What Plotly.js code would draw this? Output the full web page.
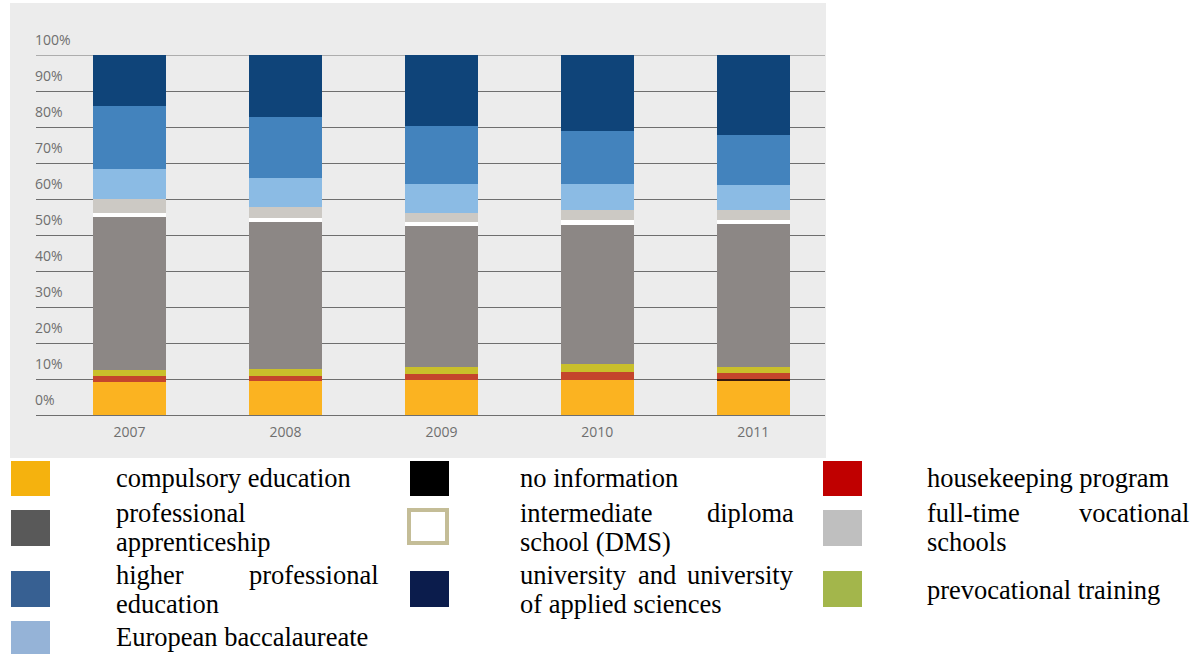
<!DOCTYPE html>
<html>
<head>
<meta charset="utf-8">
<script src="https://cdn.plot.ly/plotly-3.0.1.min.js"></script>
<style>
  html, body { margin: 0; padding: 0; background: #ffffff; }
  #chart { width: 1200px; height: 654px; }
</style>
</head>
<body>
<div id="chart"></div>
<script>
// ---- data (shares in %) ----
const years = ['2007', '2008', '2009', '2010', '2011'];
const compulsoryEducation      = [9.3, 9.4, 9.7, 9.7, 9.4];
const noInformation            = [0, 0, 0, 0, 0.6];
const housekeepingProgram      = [1.5, 1.4, 1.7, 2.3, 1.6];
const prevocationalTraining    = [1.7, 1.9, 2.0, 2.1, 1.8];
const professionalApprenticeship = [42.6, 41.0, 39.2, 38.6, 39.6];
const intermediateDiplomaSchool = [1.1, 1.1, 0.9, 1.5, 1.2];
const fullTimeVocationalSchools = [3.7, 3.1, 2.5, 2.7, 2.7];
const europeanBaccalaureate    = [8.3, 8.0, 8.2, 7.2, 7.0];
const higherProfessionalEducation = [17.7, 17.0, 16.2, 14.9, 13.9];
const universityAndUAS         = [14.1, 17.1, 19.6, 21.0, 22.2];

const yTickValues = [0, 10, 20, 30, 40, 50, 60, 70, 80, 90, 100];
const yTickLabels = ['0%', '10%', '20%', '30%', '40%', '50%', '60%', '70%', '80%', '90%', '100%'];

const legendLabels = [
  'compulsory education', 'no information', 'housekeeping program',
  'professional apprenticeship', 'intermediate diploma school (DMS)', 'full-time vocational schools',
  'higher professional education', 'university and university of applied sciences', 'prevocational training',
  'European baccalaureate'
];

// ---- series (bottom to top) ----
const series = [
  {name: 'compulsory education', y: compulsoryEducation, color: '#fbb321'},
  {name: 'no information', y: noInformation, color: '#3a1a0c'},
  {name: 'housekeeping program', y: housekeepingProgram, color: '#c4452c'},
  {name: 'prevocational training', y: prevocationalTraining, color: '#c9bf2b'},
  {name: 'professional apprenticeship', y: professionalApprenticeship, color: '#8c8785'},
  {name: 'intermediate diploma school (DMS)', y: intermediateDiplomaSchool, color: '#ffffff'},
  {name: 'full-time vocational schools', y: fullTimeVocationalSchools, color: '#ccc9c4'},
  {name: 'European baccalaureate', y: europeanBaccalaureate, color: '#8bbbe4'},
  {name: 'higher professional education', y: higherProfessionalEducation, color: '#4383bd'},
  {name: 'university and university of applied sciences', y: universityAndUAS, color: '#0f4479'}
];

const traces = series.map(s => ({
  type: 'bar',
  name: s.name,
  x: years,
  y: s.y,
  marker: {color: s.color, line: {width: 0}},
  showlegend: false,
  hoverinfo: 'skip'
}));

// ---- layout geometry (pixels) ----
const W = 1200, H = 654;
const plotL = 36, plotR = 825, plotT = 55, plotB = 415;
const px = v => (v - plotL) / (plotR - plotL);
const py = v => (plotB - v) / (plotB - plotT);

const shapes = [];
const annotations = [];

// chart panel background
shapes.push({type: 'rect', xref: 'paper', yref: 'paper', layer: 'below',
  x0: px(10), x1: px(826), y0: py(458), y1: py(3),
  fillcolor: '#ececec', line: {width: 0}});

// top gridline (plot edge gridline is not drawn by the axis itself)
const yTop = Math.max(...yTickValues);
shapes.push({type: 'line', xref: 'paper', yref: 'y', layer: 'below',
  x0: 0, x1: 1, y0: yTop, y1: yTop, line: {color: '#6e6e6e', width: 1}});

// custom legend (3 columns)
const legendColors = ['#f5b20e', '#000000', '#c00000', '#595959', 'DMS', '#bfbfbf',
                      '#376092', '#0b1c4c', '#a3b64b', '#95b3d7'];
const colBoxX = [11, 410, 823];
const colTextL = [115, 519, 926];
const colTextR = [380, 795, 1190];
const rowBoxY = [[461, 496], [510, 546], [571, 607], [621, 657]];
const firstLineWords = {3: 1, 4: 2, 5: 2, 6: 2, 7: 3};
const baselines = {
  0: [487], 1: [487], 2: [487],
  3: [522, 551], 4: [522, 551], 5: [522, 551],
  6: [584, 613], 7: [584, 613], 8: [599],
  9: [646]
};
const legendFont = {family: '"Liberation Serif", "Times New Roman", serif', size: 26.5, color: '#000000'};

function addText(text, xpx, baseline, anchor) {
  annotations.push({xref: 'paper', yref: 'paper', x: px(xpx), y: py(baseline - 9),
    xanchor: anchor, yanchor: 'middle', text: text, showarrow: false,
    font: legendFont, borderpad: 0});
}

legendLabels.forEach((label, i) => {
  const col = i % 3, row = Math.floor(i / 3);
  const bx = colBoxX[col], by = rowBoxY[row];
  if (legendColors[i] === 'DMS') {
    shapes.push({type: 'rect', xref: 'paper', yref: 'paper',
      x0: px(bx - 1), x1: px(bx + 37), y0: py(by[1] - 3), y1: py(by[0]),
      fillcolor: '#ffffff', line: {color: '#c4bd97', width: 4}});
  } else {
    shapes.push({type: 'rect', xref: 'paper', yref: 'paper',
      x0: px(bx), x1: px(bx + 39), y0: py(by[1]), y1: py(by[0]),
      fillcolor: legendColors[i], line: {width: 0}});
  }
  const words = label.split(' ');
  const bl = baselines[i];
  if (bl.length === 1) {
    addText(label, colTextL[col], bl[0], 'left');
  } else {
    const n = firstLineWords[i];
    const first = words.slice(0, n), rest = words.slice(n);
    if (first.length === 1) {
      addText(first[0], colTextL[col], bl[0], 'left');
    } else if (first.length === 2) {
      addText(first[0], colTextL[col], bl[0], 'left');
      addText(first[1], colTextR[col], bl[0], 'right');
    } else {
      addText(first[0], colTextL[col], bl[0], 'left');
      addText(first[1], (colTextL[col] + colTextR[col]) / 2, bl[0], 'center');
      addText(first[2], colTextR[col], bl[0], 'right');
    }
    addText(rest.join(' '), colTextL[col], bl[1], 'left');
  }
});

const tickFont = {family: '"Open Sans", "Noto Sans", sans-serif', size: 14, color: '#6f6f6f'};

const layout = {
  width: W, height: H, autosize: false,
  margin: {l: plotL, r: W - plotR, t: plotT, b: H - plotB, pad: 0},
  paper_bgcolor: '#ffffff',
  plot_bgcolor: 'rgba(0,0,0,0)',
  barmode: 'stack',
  bargap: 1 - 73 / 156,
  showlegend: false,
  xaxis: {
    type: 'category', range: [-0.6, 4.46], fixedrange: true,
    showgrid: false, zeroline: false, showline: false, ticks: '',
    tickfont: tickFont, ticklabelstandoff: 7
  },
  yaxis: {
    range: [0, 100], fixedrange: true,
    tickmode: 'array', tickvals: yTickValues, ticktext: yTickLabels,
    showgrid: true, gridcolor: '#6e6e6e', gridwidth: 1,
    zeroline: true, zerolinecolor: '#6e6e6e', zerolinewidth: 1,
    showline: false, ticks: '',
    ticklabelposition: 'inside', ticklabelshift: -15, ticklabeloverflow: 'allow',
    ticklabelstandoff: -4,
    tickfont: tickFont
  },
  shapes: shapes,
  annotations: annotations
};

Plotly.newPlot('chart', traces, layout, {staticPlot: true, displayModeBar: false});
</script>
</body>
</html>
